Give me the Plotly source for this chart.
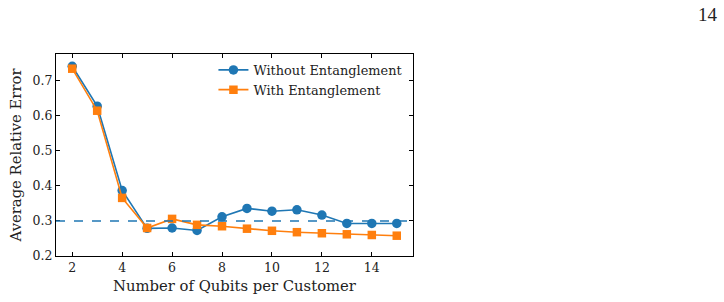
import plotly.graph_objects as go

qubits = [2, 3, 4, 5, 6, 7, 8, 9, 10, 11, 12, 13, 14, 15]
without_ent = [0.742, 0.628, 0.387, 0.279, 0.280, 0.273, 0.312, 0.336, 0.328, 0.332, 0.317, 0.293, 0.293, 0.293]
with_ent = [0.735, 0.615, 0.366, 0.280, 0.306, 0.289, 0.285, 0.278, 0.272, 0.268, 0.265, 0.262, 0.260, 0.258]
threshold = 0.3
x_ticks = [2, 4, 6, 8, 10, 12, 14]
y_ticks = [0.2, 0.3, 0.4, 0.5, 0.6, 0.7]
page_number = "14"

font_fam = "DejaVu Serif"
fig = go.Figure()
fig.add_trace(go.Scatter(x=qubits, y=without_ent, mode="lines+markers", name="Without Entanglement",
                         line=dict(color="#1f77b4", width=1.6),
                         marker=dict(symbol="circle", size=9.5, color="#1f77b4")))
fig.add_trace(go.Scatter(x=qubits, y=with_ent, mode="lines+markers", name="With Entanglement",
                         line=dict(color="#ff7f0e", width=1.6),
                         marker=dict(symbol="square", size=8.5, color="#ff7f0e")))
fig.add_shape(type="line", xref="paper", yref="y", x0=0, x1=1, y0=threshold, y1=threshold,
              line=dict(color="#1f77b4", width=1.4, dash="dash"))

axis_common = dict(showline=True, linecolor="black", linewidth=1.2, mirror="ticks",
                   ticks="inside", ticklen=4, tickwidth=1.1, tickcolor="black",
                   showgrid=False, zeroline=False,
                   tickfont=dict(family=font_fam, size=12.5, color="#222"))
fig.update_xaxes(range=[1.35, 15.65], tickvals=x_ticks,
                 title=dict(text="Number of Qubits per Customer", font=dict(family=font_fam, size=14.8, color="#222"), standoff=6),
                 **axis_common)
fig.update_yaxes(range=[0.2, 0.777], tickvals=y_ticks, tickformat=".1f",
                 title=dict(text="Average Relative Error", font=dict(family=font_fam, size=14.8, color="#222"), standoff=7),
                 **axis_common)
fig.add_annotation(text=page_number, xref="paper", yref="paper",
                   x=(708 - 56) / 357, y=(256 - 14) / 202, xanchor="center", yanchor="middle",
                   showarrow=False, font=dict(family="Liberation Serif", size=19, color="#222"))
fig.update_layout(
    width=724, height=302,
    margin=dict(l=56, r=311, t=54, b=46),
    paper_bgcolor="white", plot_bgcolor="white",
    showlegend=True,
    legend=dict(x=0.441, y=0.995, xanchor="left", yanchor="top", bgcolor="rgba(0,0,0,0)",
                font=dict(family=font_fam, size=12.9, color="#222"), itemwidth=30, tracegroupgap=0),
)
fig.write_html("out.html")
